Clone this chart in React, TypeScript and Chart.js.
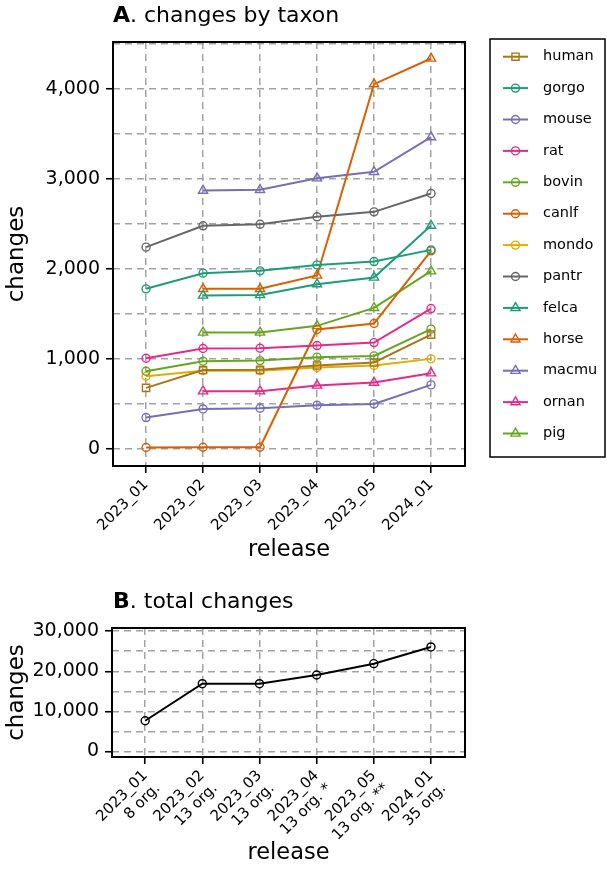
import React, { useEffect, useRef } from 'react';
import { Chart, registerables } from 'chart.js';

Chart.register(...registerables);

const FONT = "'DejaVu Sans', 'Liberation Sans', sans-serif";
const GRID = '#a3a3a3';

// ---------- data ----------
const releases = ['2023_01', '2023_02', '2023_03', '2023_04', '2023_05', '2024_01'];
const totalTickLabels = [
  ['2023_01', '8 org.'],
  ['2023_02', '13 org.'],
  ['2023_03', '13 org.'],
  ['2023_04', '13 org. *'],
  ['2023_05', '13 org. **'],
  ['2024_01', '35 org.'],
];

const taxa = ['human', 'gorgo', 'mouse', 'rat', 'bovin', 'canlf', 'mondo', 'pantr', 'felca', 'horse', 'macmu', 'ornan', 'pig'];
const taxonColors = ['#A6761D', '#1B9E77', '#7570B3', '#E7298A', '#66A61E', '#D95F02', '#E6AB02', '#666666', '#1B9E77', '#D95F02', '#7570B3', '#E7298A', '#66A61E'];
const taxonMarkers = ['rect', 'circle', 'circle', 'circle', 'circle', 'circle', 'circle', 'circle', 'triangle', 'triangle', 'triangle', 'triangle', 'triangle'];

const human = [678, 876, 878, 926, 960, 1270];
const gorgo = [1778, 1952, 1978, 2044, 2081, 2211];
const mouse = [348, 444, 452, 485, 500, 711];
const rat = [1007, 1115, 1118, 1148, 1181, 1559];
const bovin = [863, 974, 981, 1019, 1033, 1330];
const canlf = [15, 18, 18, 1326, 1393, 2200];
const mondo = [807, 868, 868, 904, 926, 1000];
const pantr = [2241, 2478, 2496, 2578, 2633, 2837];
const felca = [null, 1704, 1710, 1830, 1904, 2481];
const horse = [null, 1778, 1778, 1926, 4052, 4337];
const macmu = [null, 2870, 2878, 3007, 3078, 3463];
const ornan = [null, 641, 641, 704, 737, 841];
const pig = [null, 1293, 1293, 1367, 1567, 1974];
const taxonSeries = [human, gorgo, mouse, rat, bovin, canlf, mondo, pantr, felca, horse, macmu, ornan, pig];

const totals = [7650, 16900, 16900, 19075, 21900, 26075];

const topYTicks = [0, 500, 1000, 1500, 2000, 2500, 3000, 3500, 4000, 4500];
const bottomYTicks = [0, 5000, 10000, 15000, 20000, 25000, 30000];

// ---------- helpers ----------
function drawMarker(ctx: CanvasRenderingContext2D, style: string, x: number, y: number, color: string) {
  ctx.save();
  ctx.strokeStyle = color;
  ctx.lineWidth = 1.4;
  ctx.beginPath();
  if (style === 'circle') {
    ctx.arc(x, y, 4, 0, Math.PI * 2);
  } else if (style === 'rect') {
    ctx.rect(x - 3.6, y - 3.6, 7.2, 7.2);
  } else {
    const r = 5.3;
    ctx.moveTo(x, y - r);
    ctx.lineTo(x + r * 0.866, y + r * 0.5);
    ctx.lineTo(x - r * 0.866, y + r * 0.5);
    ctx.closePath();
  }
  ctx.stroke();
  ctx.restore();
}

const framePlugin = {
  id: 'frame',
  afterDraw(chart: any) {
    const { ctx, chartArea } = chart;
    const { left, top, right, bottom } = chartArea;
    ctx.save();
    ctx.strokeStyle = '#000';
    ctx.lineWidth = 2;
    ctx.strokeRect(left, top, right - left, bottom - top);
    ctx.restore();
  },
};

const panelTitlePlugin = {
  id: 'panelTitle',
  afterDraw(chart: any, _args: any, opts: any) {
    if (!opts || !opts.letter) return;
    const { ctx } = chart;
    ctx.save();
    ctx.fillStyle = '#000';
    ctx.textBaseline = 'alphabetic';
    ctx.textAlign = 'left';
    ctx.font = `bold ${opts.size}px ${FONT}`;
    ctx.fillText(opts.letter, opts.x, opts.y);
    const w = ctx.measureText(opts.letter).width;
    ctx.font = `${opts.size}px ${FONT}`;
    ctx.fillText(opts.text, opts.x + w, opts.y);
    ctx.restore();
  },
};

const boxLegendPlugin = {
  id: 'boxLegend',
  afterDraw(chart: any, _args: any, opts: any) {
    if (!opts || !opts.show) return;
    const { ctx } = chart;
    ctx.save();
    ctx.strokeStyle = '#000';
    ctx.lineWidth = 1.5;
    ctx.strokeRect(opts.left, opts.top, opts.right - opts.left, opts.bottom - opts.top);
    chart.data.datasets.forEach((ds: any, i: number) => {
      const y = opts.firstY + i * opts.step;
      ctx.strokeStyle = ds.borderColor;
      ctx.lineWidth = 2;
      ctx.beginPath();
      ctx.moveTo(opts.lineX0, y);
      ctx.lineTo(opts.lineX1, y);
      ctx.stroke();
      drawMarker(ctx, ds.pointStyle, (opts.lineX0 + opts.lineX1) / 2, y, ds.borderColor);
      ctx.fillStyle = '#000';
      ctx.font = `14.5px ${FONT}`;
      ctx.textBaseline = 'middle';
      ctx.textAlign = 'left';
      ctx.fillText(ds.label, opts.textX, y);
    });
    ctx.restore();
  },
};

function xScale(height: number, labels: (v: number) => any, titlePad: number) {
  return {
    type: 'linear',
    min: -0.58,
    max: 5.596,
    afterBuildTicks: (s: any) => {
      s.ticks = releases.map((_, i) => ({ value: i }));
    },
    afterFit: (s: any) => {
      s.height = height;
      s.paddingLeft = 0;
      s.paddingRight = 0;
    },
    ticks: {
      autoSkip: false,
      maxRotation: 45,
      minRotation: 45,
      padding: 3,
      color: '#000',
      font: { family: FONT, size: 15 },
      callback: (v: number) => labels(v),
    },
    grid: {
      color: GRID,
      lineWidth: 1.5,
      borderDash: [7, 5],
      tickColor: '#000',
      tickLength: 7,
      tickWidth: 1.6,
      tickBorderDash: [],
    },
    border: { display: false, dash: [7, 5] },
    title: {
      display: true,
      text: 'release',
      color: '#000',
      font: { family: FONT, size: 22.5 },
      padding: { top: 0, bottom: titlePad },
    },
  };
}

function yScale(min: number, max: number, ticks: number[], major: number, width: number) {
  return {
    type: 'linear',
    min,
    max,
    afterBuildTicks: (s: any) => {
      s.ticks = ticks.map((v) => ({ value: v }));
    },
    afterFit: (s: any) => {
      s.width = width;
      s.paddingTop = 0;
      s.paddingBottom = 0;
    },
    ticks: {
      autoSkip: false,
      padding: 6,
      color: '#000',
      font: { family: FONT, size: 19 },
      callback: (v: number) => (v % major === 0 ? v.toLocaleString('en-US') : ''),
    },
    grid: {
      color: GRID,
      lineWidth: 1.5,
      borderDash: [7, 5],
      tickColor: (c: any) => (c.tick && c.tick.value % major === 0 ? '#000' : 'rgba(0,0,0,0)'),
      tickLength: 7,
      tickWidth: 1.6,
      tickBorderDash: [],
    },
    border: { display: false, dash: [7, 5] },
    title: {
      display: true,
      text: 'changes',
      color: '#000',
      font: { family: FONT, size: 23 },
      padding: { top: 3, bottom: 0 },
    },
  };
}

export default function App() {
  const topRef = useRef<HTMLCanvasElement>(null);
  const botRef = useRef<HTMLCanvasElement>(null);

  useEffect(() => {
    const taxonDatasets = taxa.map((name, i) => {
      const marker = taxonMarkers[i];
      return {
        label: name,
        data: taxonSeries[i]
          .map((v, j) => (v == null ? null : { x: j, y: v }))
          .filter((p) => p !== null),
        borderColor: taxonColors[i],
        backgroundColor: 'rgba(0,0,0,0)',
        borderWidth: 2,
        pointStyle: marker,
        pointRadius: marker === 'triangle' ? 5.3 : marker === 'rect' ? 5.1 : 4,
        pointBorderWidth: 1.4,
        pointBorderColor: taxonColors[i],
        pointBackgroundColor: 'rgba(0,0,0,0)',
        fill: false,
        tension: 0,
      };
    });

    const c1 = new Chart(topRef.current as HTMLCanvasElement, {
      type: 'line',
      data: { datasets: taxonDatasets as any },
      options: {
        responsive: false,
        animation: false,
        devicePixelRatio: 1,
        events: [],
        layout: { padding: { left: 0, top: 42, right: 142, bottom: 0 } },
        scales: {
          x: xScale(104, (v) => releases[v], 6) as any,
          y: yScale(-190, 4520, topYTicks, 1000, 113) as any,
        },
        plugins: {
          legend: { display: false },
          tooltip: { enabled: false },
          panelTitle: { letter: 'A', text: '. changes by taxon', x: 113, y: 22, size: 22 },
          boxLegend: {
            show: true,
            left: 490,
            top: 39,
            right: 605,
            bottom: 457,
            firstY: 56.7,
            step: 31.4,
            lineX0: 503,
            lineX1: 528,
            textX: 543,
          },
        } as any,
      },
      plugins: [framePlugin, panelTitlePlugin, boxLegendPlugin],
    });

    const c2 = new Chart(botRef.current as HTMLCanvasElement, {
      type: 'line',
      data: {
        datasets: [
          {
            label: 'total',
            data: totals.map((v, j) => ({ x: j, y: v })),
            borderColor: '#000',
            backgroundColor: 'rgba(0,0,0,0)',
            borderWidth: 2,
            pointStyle: 'circle',
            pointRadius: 4,
            pointBorderWidth: 1.4,
            pointBorderColor: '#000',
            pointBackgroundColor: 'rgba(0,0,0,0)',
            fill: false,
            tension: 0,
          } as any,
        ],
      },
      options: {
        responsive: false,
        animation: false,
        devicePixelRatio: 1,
        events: [],
        layout: { padding: { left: 0, top: 58, right: 142, bottom: 0 } },
        scales: {
          x: xScale(117, (v) => totalTickLabels[v], 7) as any,
          y: yScale(-1400, 30800, bottomYTicks, 10000, 112) as any,
        },
        plugins: {
          legend: { display: false },
          tooltip: { enabled: false },
          panelTitle: { letter: 'B', text: '. total changes', x: 113, y: 37.7, size: 22 },
        } as any,
      },
      plugins: [framePlugin, panelTitlePlugin],
    });

    return () => {
      c1.destroy();
      c2.destroy();
    };
  }, []);

  return (
    <div style={{ position: 'fixed', left: 0, top: 0, width: 607, height: 874, background: '#fff' }}>
      <canvas
        ref={topRef}
        width={607}
        height={570}
        style={{ position: 'absolute', left: 0, top: 0, width: 607, height: 570 }}
      />
      <canvas
        ref={botRef}
        width={607}
        height={304}
        style={{ position: 'absolute', left: 0, top: 570, width: 607, height: 304 }}
      />
    </div>
  );
}
